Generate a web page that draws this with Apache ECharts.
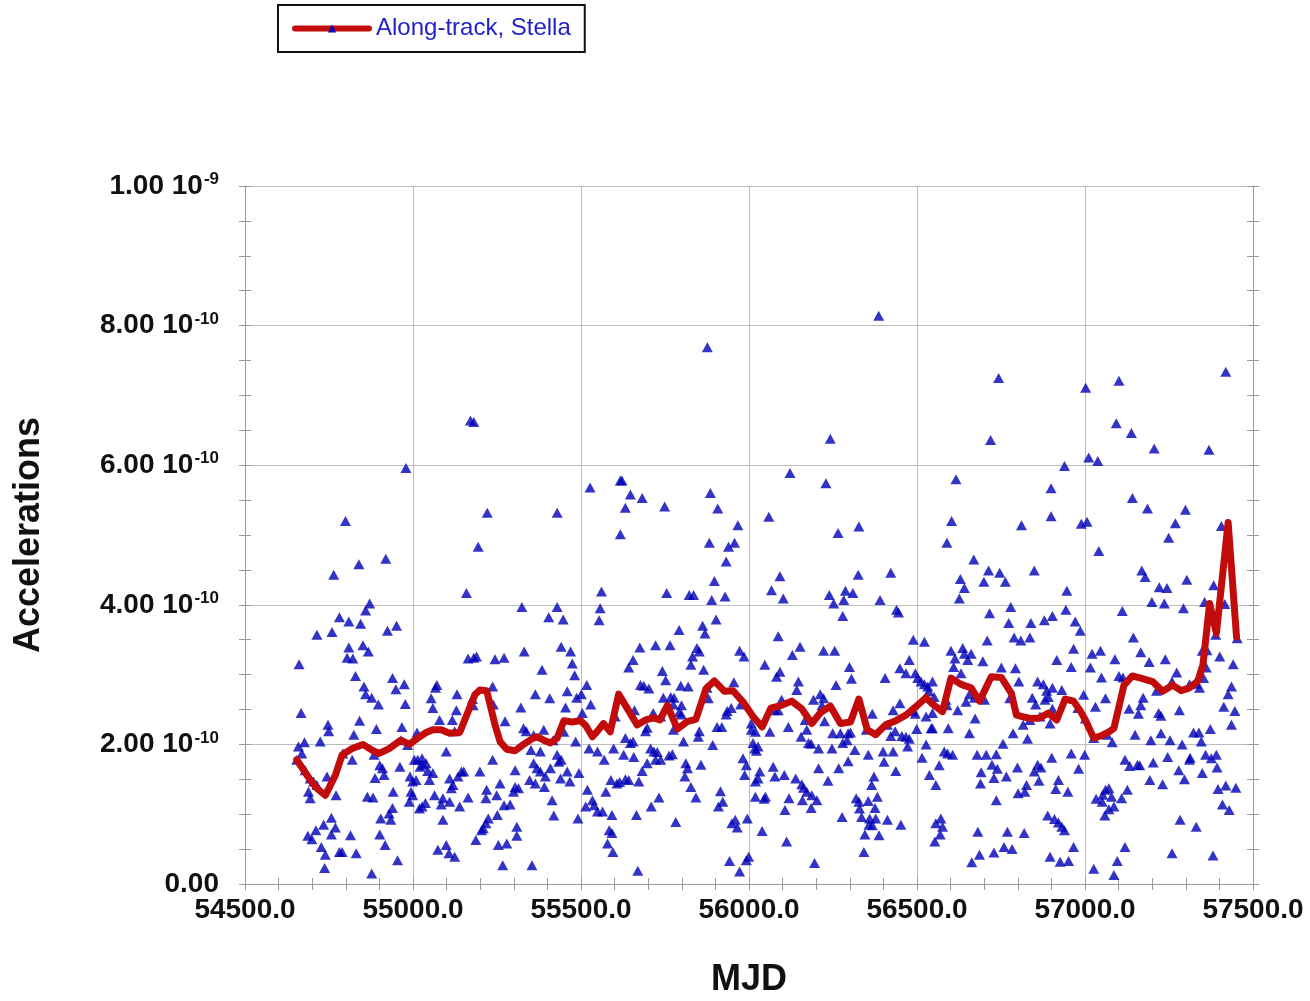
<!DOCTYPE html>
<html>
<head>
<meta charset="utf-8">
<script src="https://cdn.jsdelivr.net/npm/echarts@6/dist/echarts.min.js"></script>
<style>
html,body{margin:0;padding:0;background:#fff;}
#chart{width:1310px;height:1001px;}
</style>
</head>
<body>
<div id="chart"></div>
<script>
// ---------------- DATA (accelerations in units of 1e-10) ----------------
const seriesName = 'Along-track, Stella';

// x ticks
const xMin = 54500, xMax = 57500, xStep = 500;
// y tick labels (value in 1e-10 units -> label parts)
const yTickValues = [0, 2, 4, 6, 8, 10];
const yTickBase = ['0.00', '2.00 10', '4.00 10', '6.00 10', '8.00 10', '1.00 10'];
const yTickExp  = ['', '-10', '-10', '-10', '-10', '-9'];

// scatter points [MJD, acceleration/1e-10]
const pointsHigh = [
[55876,7.69],[56386,8.14],[56743,7.25],[57002,7.11],[57101,7.21],[57419,7.34],
[55171,6.64],[55181,6.62],[54979,5.96],[54799,5.20],[55527,5.68],[55221,5.32],[55429,5.32],[55194,4.83],[54919,4.66],[54839,4.58],[54764,4.43],[55159,4.17],[55561,4.19],[54871,4.02],[54859,3.92],[54781,3.82],[54809,3.76],[54844,3.73],[54714,3.57],[54759,3.61],[54924,3.63],[54951,3.70],[55324,3.97],[55429,3.97],[55404,3.82],[55447,3.79],[55557,3.95],[55554,3.78],
[56242,6.38],[56122,5.89],[56229,5.74],[55617,5.78],[55622,5.78],[55647,5.58],[55682,5.53],[55632,5.39],[55749,5.41],[55885,5.60],[55907,5.38],[56059,5.26],[55967,5.14],[55617,5.01],[55882,4.89],[55939,4.83],[55957,4.89],[55932,4.62],[56265,5.03],[56327,5.12],[56092,4.41],[56067,4.21],[56102,4.09],[55897,4.34],[55889,4.07],[55929,4.12],[55755,4.17],[55822,4.14],[55835,4.14],[56239,4.14],[56252,4.02],[56287,4.20],[56309,4.17],[56282,4.07],[56325,4.43],[56422,4.46],[56390,4.07],[56439,3.93],[56445,3.89],[56279,3.84],[55902,3.79],[55862,3.70],[55869,3.59],[55792,3.64],[56087,3.55],[56489,3.50],[56522,3.47],
[56719,6.36],[57093,6.60],[57138,6.46],[57206,6.24],[57369,6.22],[57011,6.11],[57038,6.06],[56939,5.99],[56616,5.80],[56899,5.67],[57141,5.53],[57186,5.38],[57299,5.36],[56603,5.20],[56589,4.89],[56811,5.14],[56899,5.27],[56989,5.16],[57006,5.19],[57269,5.17],[57249,4.96],[57406,5.13],[57041,4.77],[56669,4.65],[56629,4.37],[56641,4.24],[56626,4.09],[56713,4.49],[56746,4.46],[56699,4.33],[56763,4.33],[56849,4.49],[56946,4.20],[57169,4.49],[57179,4.40],[57221,4.25],[57244,4.24],[57303,4.36],[57383,4.28],[57199,4.04],[57236,4.02],[57356,4.04],[57416,4.01],[57293,3.95],[56779,3.97],[56716,3.88],[56773,3.74],[56839,3.74],[56879,3.78],[56903,3.84],[56943,3.93],[56971,3.76],[56986,3.63],[57111,3.91],[56709,3.49],[56789,3.53],[56809,3.49],[56836,3.53],[57144,3.53],[57389,3.57],[57453,3.52]
];
const pointsEarly = [
[54661,3.15],[54809,3.39],[54804,3.24],[54821,3.23],[54867,3.33],[54851,3.42],[54829,2.98],[54854,2.83],[54859,2.72],[54877,2.67],[54897,2.57],[54667,2.45],[54939,2.95],[54949,2.79],[54974,2.86],[54977,2.58],[54841,2.34],[54747,2.28],[54749,2.19],[54724,2.04],[54677,2.03],[54659,1.97],[54669,1.87],[54654,1.78],[54679,1.63],[54694,1.51],[54704,1.47],[54714,1.42],[54744,1.54],[54689,1.32],[54694,1.23],[54771,1.27],[54791,1.87],[54819,1.78],[54824,2.14],[54891,2.22],[54884,1.85],[54901,1.70],[54909,1.66],[54914,1.56],[54887,1.52],[54864,1.25],[54881,1.24],[54961,1.68],[54967,2.25],[54964,2.06],[54941,1.32],[54939,1.09],[54929,1.01],[54904,0.94],[54934,0.92],[54757,0.95],[54734,0.85],[54769,0.81],[54757,0.71],[54711,0.77],[54687,0.69],[54699,0.64],[54727,0.53],[54739,0.42],[54781,0.46],[54789,0.46],[54814,0.70],[54831,0.44],[54901,0.71],[54917,0.56],[54737,0.23],[54877,0.15],[54954,0.34],
[55012,2.17],[55004,1.78],[55014,1.78],[55027,1.80],[55029,1.71],[55039,1.73],[55044,1.62],[55021,1.68],[54984,1.99],[54991,1.54],[54999,1.47],[55009,1.49],[54994,1.32],[54999,1.27],[54989,1.18],[55019,1.08],[55027,1.11],[55037,1.16],[55049,1.49],[55059,1.59],[55064,1.27],[55089,1.23],[55084,1.14],[55089,0.92],[55109,1.51],[55114,1.37],[55109,1.18],[55119,1.42],[55134,1.54],[55139,1.11],[55144,1.61],[55151,1.61],[55164,1.24],[55199,1.61],
[55071,2.85],[55067,2.81],[55054,2.66],[55059,2.52],[55079,2.35],[55099,1.90],[55117,2.35],[55131,2.72],[55129,2.49],[55124,2.19],[55177,2.65],[55179,2.56],[55164,3.23],[55189,3.26],[55181,3.24],[55244,3.22],[55271,3.24],[55237,2.83],[55239,2.57],[55274,2.33],[55237,1.78],[55219,1.35],[55217,1.23],[55249,1.27],[55259,1.44],[55271,1.13],[55289,1.14],[55299,1.32],[55304,1.39],[55314,1.37],[55304,1.63],[55329,2.23],[55337,2.19],[55321,2.53],[55364,2.72],[55384,3.07],[55407,2.66],[55331,3.33],[55359,2.13],[55389,2.21],[55417,2.06],[55351,1.92],[55379,1.90],[55359,1.73],[55369,1.66],[55379,1.61],[55409,1.66],[55394,1.54],[55347,1.49],[55364,1.44],[55391,1.39],[55414,1.20],[55419,0.98],[55429,1.85],[55434,1.75],[55441,1.78],[55439,1.51],[55459,1.61],[55467,1.47],[55494,1.59],[55449,2.18],[55454,2.53],[55459,2.76],[55481,2.99],[55474,3.16],[55469,3.33],[55441,3.40],[55487,2.67],[55501,2.72],[55517,2.85],[55529,2.57],[55504,2.45],[55484,2.04],[55524,1.94],[55549,1.90],[55569,1.78],[55589,1.49],[55574,1.32],[55519,1.35],[55534,1.20],[55539,1.13],[55514,1.11],[55549,1.04],[55564,1.04],[55491,0.94],[55251,0.99],[55224,0.94],[55217,0.87],[55209,0.80],[55204,0.77],[55187,0.63],[55254,0.56],[55279,0.58],[55309,0.82],[55309,0.69],[55099,0.56],[55074,0.49],[55107,0.44],[55124,0.39],[55267,0.27],[55354,0.27],[55584,0.77],[55579,0.58]
];
const pointsMiddle = [
[55675,3.39],[55722,3.42],[55765,3.42],[55845,3.38],[55852,3.33],[55832,3.26],[55827,3.14],[55865,3.07],[55655,3.21],[55642,3.10],[55742,3.05],[55752,2.92],[55677,2.85],[55687,2.84],[55702,2.80],[55797,2.84],[55819,2.83],[55875,2.81],[55879,2.66],[55745,2.67],[55767,2.68],[55777,2.67],[55775,2.57],[55799,2.56],[55792,2.46],[55799,2.43],[55659,2.49],[55602,2.40],[55715,2.45],[55737,2.40],[55692,2.19],[55697,2.24],[55775,2.21],[55805,2.04],[55852,2.19],[55849,2.11],[55905,2.25],[55919,2.25],[55932,2.43],[55947,2.52],[55935,2.48],[55892,1.99],[55972,3.34],[55985,3.26],[55955,2.89],[55975,2.57],[56007,2.30],[56047,3.14],[55632,2.09],[55647,2.02],[55655,2.04],[55597,1.94],[55627,1.85],[55657,1.82],[55707,1.94],[55717,1.90],[55727,1.89],[55722,1.78],[55737,1.78],[55762,1.84],[55772,1.86],[55697,1.73],[55682,1.62],[55812,1.73],[55817,1.66],[55809,1.54],[55857,1.71],[55607,1.44],[55615,1.46],[55632,1.50],[55642,1.49],[55672,1.47],[55827,1.39],[55842,1.24],[55732,1.24],[55709,1.11],[55665,0.99],[55592,0.99],[55782,0.89],[55592,0.73],[55595,0.46],[55669,0.19],[55915,1.33],[55922,1.18],[55909,1.11],[55959,0.92],[55949,0.87],[55965,0.81],[55995,0.94],[55942,0.33],[55972,0.18],[55992,0.34],[55999,0.39],[55982,1.80],[55992,1.70],[55987,1.56],[56012,2.02],[56017,1.94],[56027,1.97],[56022,1.91],[56007,2.21],[56019,2.18],[56062,2.18],[56032,1.61],[56027,1.51],[56019,1.47],[56019,1.25],[56045,1.22],[56049,1.25],[56039,0.76],[56072,1.68],[56077,1.54],[56105,1.56],[56107,1.06],[56119,1.23],[56112,0.61],[56139,1.51],[56157,1.43],[56162,1.38],[56172,1.32],[56187,1.27],[56202,1.20],[56159,1.20],[56185,1.09],[56195,0.30],[56082,2.97],[56092,3.04],[56129,3.28],[56152,3.40],[56147,2.90],[56142,2.78],[56097,2.64],[56087,2.49],[56077,2.49],[56117,2.25],[56167,2.35],[56172,2.21],[56155,2.11],[56177,2.02],[56185,2.01],[56207,1.94],[56192,2.64],[56212,2.72],[56222,2.66],[56217,2.56],[56225,2.33],[56222,3.34],[56255,3.34],[56259,2.85],[56299,3.11],[56305,2.94],[56249,2.16],[56272,2.16],[56295,2.16],[56279,2.02],[56292,2.06],[56302,2.17],[56247,1.94],[56207,1.66],[56235,1.48],[56267,1.66],[56295,1.76],[56315,1.92],[56277,0.96],[56319,1.23],[56327,1.18],[56329,1.08],[56355,1.19],[56375,1.09],[56382,1.25],[56372,1.54],[56365,1.42],[56355,1.85],[56335,0.96],[56359,0.94],[56367,0.84],[56377,0.94],[56357,0.85],[56387,0.70],[56345,0.71],[56342,0.46],[56412,0.92],[56452,0.85],[56399,1.90],[56402,1.75],[56429,1.90],[56437,1.62],[56367,2.44],[56349,2.21],[56412,2.28],[56422,2.12],[56435,2.19],[56429,2.49],[56449,2.59],[56405,2.95],[56449,3.09],[56467,3.02],[56477,3.21],[56455,2.12],[56467,2.11],[56477,2.08],[56472,1.97],[56499,2.22],[56487,2.48],[56495,2.44],[56495,3.02],[56502,2.95],[56512,2.90],[56522,2.86],[56532,2.83],[56535,2.76],[56527,2.68],[56527,2.40],[56542,2.23],[56527,2.00],[56515,1.81],[56537,1.56]
];
const pointsLate = [
[56601,3.34],[56636,3.38],[56641,3.30],[56613,3.23],[56661,3.30],[56651,3.21],[56696,3.19],[56609,3.11],[56631,3.02],[56546,2.90],[56551,2.68],[56546,2.45],[56546,2.23],[56586,2.64],[56589,2.56],[56621,2.49],[56646,2.61],[56656,2.72],[56671,2.67],[56701,2.64],[56673,2.37],[56656,2.16],[56593,2.23],[56751,3.10],[56793,3.09],[56803,2.90],[56776,2.66],[56786,2.16],[56816,2.28],[56829,2.08],[56836,2.35],[56843,2.67],[56853,2.57],[56859,2.90],[56876,2.86],[56886,2.77],[56903,2.81],[56891,2.68],[56881,2.64],[56866,2.40],[56896,2.30],[56903,2.51],[56931,2.78],[56916,3.21],[56959,3.11],[56966,3.37],[56979,2.52],[56996,2.71],[57001,2.37],[57031,2.54],[57061,2.66],[57016,3.10],[57021,3.30],[57046,3.34],[57049,2.96],[57089,3.22],[57101,2.98],[57113,2.96],[57166,3.32],[57191,3.18],[57239,3.22],[57173,2.67],[57166,2.56],[57131,2.51],[57159,2.44],[57213,2.77],[57219,2.45],[57226,2.41],[57281,2.49],[57259,2.90],[57273,3.03],[57311,2.86],[57331,2.87],[57341,2.81],[57353,2.95],[57361,3.10],[57349,3.34],[57363,3.35],[57401,3.26],[57441,3.15],[57436,2.83],[57426,2.72],[57413,2.54],[57446,2.48],[57436,2.28],[57081,2.03],[57026,2.09],[57066,2.14],[57149,2.14],[57196,2.06],[57226,2.16],[57253,2.06],[57289,2.00],[57323,2.17],[57339,2.17],[57346,2.04],[57373,2.22],[56756,2.01],
[56581,1.90],[56591,1.87],[56606,1.85],[56566,1.70],[56556,1.42],[56679,1.85],[56706,1.85],[56736,1.86],[56723,1.71],[56739,1.65],[56691,1.60],[56729,1.52],[56766,1.54],[56689,1.44],[56799,1.67],[56849,1.61],[56859,1.71],[56869,1.67],[56863,1.48],[56826,1.42],[56801,1.30],[56821,1.32],[56901,1.81],[56959,1.87],[56981,1.65],[56999,1.85],[56921,1.49],[56913,1.36],[56949,1.32],[56736,1.20],[56889,0.98],[56909,0.93],[56921,0.88],[56931,0.82],[56939,0.77],[56966,0.53],[56571,0.94],[56556,0.87],[56576,0.82],[56569,0.71],[56553,0.61],[56681,0.75],[56769,0.75],[56819,0.73],[56759,0.53],[56783,0.50],[56729,0.45],[56686,0.42],[56663,0.31],[56896,0.39],[56926,0.32],[56951,0.33],[57061,1.35],[57071,1.37],[57053,1.28],[57079,1.25],[57033,1.22],[57051,1.18],[57071,1.07],[57086,1.11],[57059,0.98],[57109,1.23],[57126,1.35],[57119,1.78],[57133,1.69],[57156,1.71],[57163,1.70],[57203,1.74],[57246,1.82],[57279,1.63],[57296,1.50],[57193,1.49],[57231,1.43],[57313,1.81],[57311,1.78],[57359,1.85],[57376,1.80],[57391,1.85],[57349,1.59],[57393,1.67],[57396,1.36],[57419,1.41],[57449,1.38],[57409,1.14],[57429,1.06],[57283,0.92],[57331,0.82],[57119,0.53],[57096,0.33],[57026,0.22],[57086,0.13],[57259,0.44],[57381,0.41]
];

// running mean (red line)
const meanMjd = [54654,54694,54714,54739,54769,54789,54819,54851,54881,54899,54929,54964,54989,55014,55039,55059,55084,55109,55139,55164,55184,55199,55219,55231,55244,55259,55279,55304,55329,55354,55369,55389,55409,55429,55449,55474,55499,55514,55534,55549,55567,55587,55612,55642,55667,55692,55717,55735,55757,55787,55817,55842,55872,55897,55927,55952,55982,56012,56039,56065,56097,56127,56157,56187,56212,56242,56272,56302,56327,56352,56377,56407,56437,56467,56499,56527,56546,56576,56601,56631,56661,56686,56721,56751,56781,56796,56811,56841,56866,56891,56916,56941,56966,56986,57001,57026,57046,57071,57086,57116,57141,57166,57201,57231,57261,57286,57311,57336,57351,57371,57391,57426,57451];
const meanAcc = [1.78,1.49,1.37,1.27,1.56,1.85,1.94,2.00,1.91,1.87,1.94,2.06,2.00,2.09,2.17,2.21,2.21,2.16,2.17,2.47,2.71,2.78,2.77,2.54,2.28,2.04,1.93,1.91,2.00,2.08,2.11,2.06,2.02,2.09,2.34,2.32,2.34,2.27,2.11,2.19,2.30,2.18,2.72,2.48,2.28,2.35,2.38,2.35,2.56,2.22,2.33,2.36,2.80,2.91,2.76,2.77,2.61,2.40,2.25,2.52,2.56,2.62,2.51,2.30,2.45,2.55,2.30,2.32,2.65,2.21,2.14,2.28,2.34,2.42,2.55,2.67,2.58,2.47,2.95,2.86,2.81,2.62,2.97,2.96,2.73,2.42,2.40,2.37,2.38,2.45,2.35,2.65,2.62,2.48,2.35,2.09,2.12,2.18,2.23,2.85,2.98,2.95,2.90,2.76,2.85,2.77,2.81,2.91,3.14,4.02,3.59,5.18,3.54];

// ---------------- CHART ----------------
const FONT = '"Liberation Sans", Arial, Helvetica, sans-serif';
const AXIS_GRAY = '#9a9a9a';
const GRID_GRAY = '#bdbdbd';
const BLUE = '#0000b8';
const RED = '#c20c0c';

const allPoints = pointsHigh.concat(pointsEarly, pointsMiddle, pointsLate);
const meanData = meanMjd.map((m, i) => [m, meanAcc[i]]);

function yLabel(v) {
  const i = yTickValues.indexOf(Math.round(v * 100) / 100);
  if (i < 0) return '';
  if (!yTickExp[i]) return '{a|' + yTickBase[i] + '}';
  return '{a|' + yTickBase[i] + '}{s|' + yTickExp[i] + '}';
}

function xAxisDef(gridIndex, position, inside, labels, split) {
  return {
    type: 'value', gridIndex, position, min: xMin, max: xMax, interval: xStep,
    axisLine: { show: true, lineStyle: { color: AXIS_GRAY, width: 1 } },
    axisTick: { show: true, inside, length: 6, lineStyle: { color: AXIS_GRAY, width: 1 } },
    minorTick: { show: true, splitNumber: 5, length: 6, lineStyle: { color: AXIS_GRAY, width: 1 } },
    splitLine: { show: split, lineStyle: { color: GRID_GRAY, width: 1 } },
    minorSplitLine: { show: false },
    axisLabel: labels ? {
      show: true, margin: 12, color: '#111', fontFamily: FONT, fontWeight: 'bold', fontSize: 28,
      formatter: v => v.toFixed(1)
    } : { show: false },
    name: labels ? 'MJD' : '',
    nameLocation: 'middle', nameGap: 78,
    nameTextStyle: { color: '#111', fontFamily: FONT, fontWeight: 'bold', fontSize: 36 }
  };
}
function yAxisDef(gridIndex, position, inside, labels, split) {
  return {
    type: 'value', gridIndex, position, min: 0, max: 10, interval: 2,
    axisLine: { show: true, lineStyle: { color: AXIS_GRAY, width: 1 } },
    axisTick: { show: true, inside, length: 6, lineStyle: { color: AXIS_GRAY, width: 1 } },
    minorTick: { show: true, splitNumber: 4, length: 6, lineStyle: { color: AXIS_GRAY, width: 1 } },
    splitLine: { show: split, lineStyle: { color: GRID_GRAY, width: 1 } },
    minorSplitLine: { show: false },
    axisLabel: labels ? {
      show: true, margin: 26, formatter: yLabel,
      rich: {
        a: { color: '#111', fontFamily: FONT, fontWeight: 'bold', fontSize: 28, lineHeight: 30 },
        s: { color: '#111', fontFamily: FONT, fontWeight: 'bold', fontSize: 17, lineHeight: 30, verticalAlign: 'top', padding: [0, 0, 0, 1] }
      }
    } : { show: false },
    name: labels ? 'Accelerations' : '',
    nameLocation: 'middle', nameGap: 198,
    nameTextStyle: { color: '#111', fontFamily: FONT, fontWeight: 'bold', fontSize: 36 }
  };
}

const gridRect = { left: 245, right: 57, top: 186, bottom: 117, containLabel: false, outerBoundsMode: 'none' };

const option = {
  animation: false,
  backgroundColor: '#ffffff',
  legend: {
    data: [seriesName],
    left: 278, top: 5,
    orient: 'horizontal',
    padding: [11, 14, 11, 14],
    itemWidth: 74, itemHeight: 10, itemGap: 0,
    borderColor: '#111', borderWidth: 2, borderRadius: 0,
    backgroundColor: '#fff',
    selectedMode: false,
    lineStyle: { width: 6 },
    textStyle: { color: '#2222c8', fontFamily: FONT, fontSize: 24, lineHeight: 25, padding: [0, 0, 0, 2] }
  },
  grid: [Object.assign({}, gridRect), Object.assign({}, gridRect)],
  xAxis: [
    xAxisDef(0, 'bottom', false, true, true),
    xAxisDef(0, 'top', false, false, false),
    xAxisDef(1, 'bottom', true, false, false),
    xAxisDef(1, 'top', true, false, false)
  ],
  yAxis: [
    yAxisDef(0, 'left', false, true, true),
    yAxisDef(0, 'right', false, false, false),
    yAxisDef(1, 'left', true, false, false),
    yAxisDef(1, 'right', true, false, false)
  ],
  series: [
    {
      name: 'points', type: 'scatter', xAxisIndex: 0, yAxisIndex: 0,
      symbol: 'triangle', symbolSize: [11, 10],
      itemStyle: { color: BLUE },
      data: allPoints, z: 2, silent: true
    },
    {
      name: seriesName, type: 'line', xAxisIndex: 0, yAxisIndex: 0,
      symbol: 'triangle', showSymbol: false, symbolSize: 8,
      itemStyle: { color: BLUE },
      lineStyle: { color: RED, width: 7, join: 'round', cap: 'round' },
      data: meanData, z: 3, silent: true
    }
  ]
};

const chart = echarts.init(document.getElementById('chart'), null, { renderer: 'canvas' });
chart.setOption(option);
</script>
</body>
</html>
